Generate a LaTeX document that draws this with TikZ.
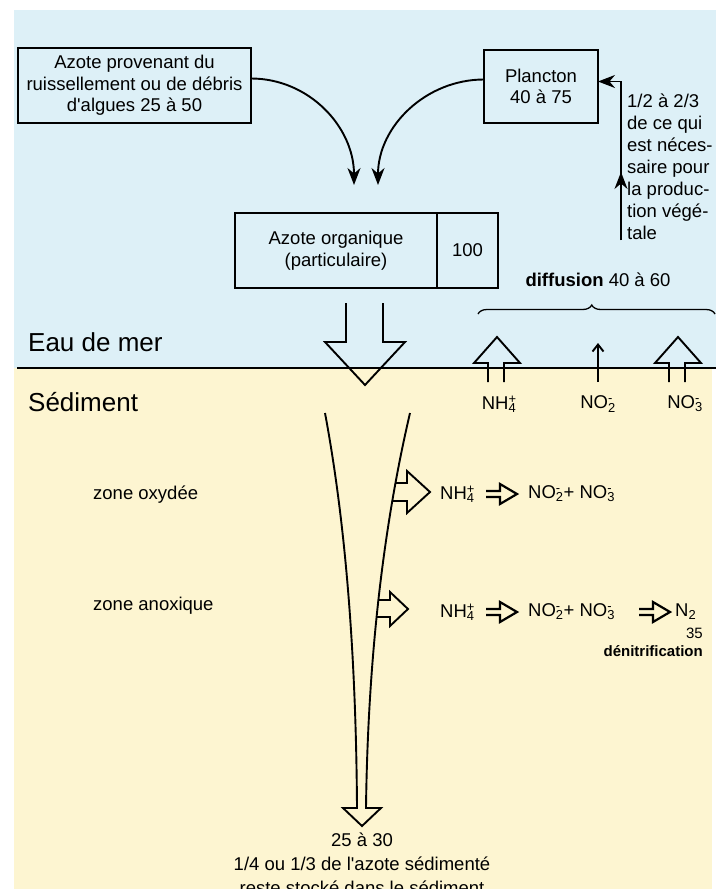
\documentclass[tikz,border=0pt]{standalone}
\usepackage{fontspec}
\setmainfont{Liberation Sans}
\usetikzlibrary{arrows.meta, decorations.pathreplacing}
\definecolor{eau}{RGB}{221,240,247}
\definecolor{sediment}{RGB}{253,245,209}
\newcommand{\ion}[3]{#1\rlap{\textsuperscript{#3}}\textsubscript{#2}}
\newcommand{\apo}{\textquotesingle}
\tikzset{
  boite/.style={draw, line width=1.9pt, inner sep=0pt, outer sep=0pt, align=center, font=\fontsize{18.5}{21.5}\selectfont},
  texte/.style={inner sep=0pt, font=\fontsize{18.5}{22}\selectfont},
  petit/.style={inner sep=0pt, anchor=east, font=\fontsize{15}{18}\selectfont},
  titre/.style={inner sep=0pt, anchor=west, font=\fontsize{26}{30}\selectfont},
  fleche/.style={line width=1.9pt, -{Stealth[length=17pt,width=13pt]}},
  creuse/.style={line width=1.9pt, line join=miter},
  double/.style={line width=2.2pt, line join=miter},
}

\begin{document}
\begin{tikzpicture}[x=1pt, y=-1pt]
\useasboundingbox (0,0) rectangle (721,889);
% fonds
\fill[eau] (14,10) rectangle (716,368);
\fill[sediment] (14,368) rectangle (712,889);
\draw[line width=2.6pt] (17,368) -- (716,368);
\node[titre] (eau) at (28,342) {Eau de mer};
\node[titre] (sed) at (28,402) {Sédiment};

% boites du haut
\node[boite, minimum width=233pt, minimum height=75pt] (apport) at (134.5,85.5) {Azote provenant du\\ruissellement ou de débris\\d\apo algues 25 à 50};
\node[boite, minimum width=114pt, minimum height=73pt] (plancton) at (541,86.5) {Plancton\\40 à 75};
\node[boite, minimum width=202pt, minimum height=75pt] (organique) at (336,250.5) {Azote organique\\(particulaire)};
\node[boite, minimum width=61pt, minimum height=75pt, anchor=west] (cent) at (organique.east) {100};

\coordinate (arrivee1) at (354,185);
\coordinate (arrivee2) at (378,185);
\draw[fleche] ([yshift=7pt]apport.east) to[out=0, in=90] (arrivee1);
\draw[fleche] ([yshift=7pt]plancton.west) to[out=180, in=90] (arrivee2);

% retour vers le plancton
\coordinate (pied) at (621,240);
\draw[fleche] (pied) |- ([yshift=5pt]plancton.east);
\draw[fleche] (pied) -- ++(0,-68);
\node[texte, anchor=north west, align=left] (besoin) at (627,94) {1/2 à 2/3\\de ce qui\\est néces-\\saire pour\\la produc-\\tion végé-\\tale};

% diffusion
\node[texte] (diffusion) at (598,280) {\textbf{diffusion} 40 à 60};
\draw[line width=1.3pt, decorate, decoration={brace, amplitude=9pt, aspect=0.48}] (478,314) -- (715,314);
\draw[creuse] (488,382) -- (488,363) -- (474,363) -- (497,337) -- (520,363) -- (504,363) -- (504,382);
\coordinate (no2pied) at (598,382);
\coordinate (no2tete) at (598,343);
\draw[line width=1.9pt, -{Straight Barb[length=7pt,width=11pt]}] (no2pied) -- (no2tete);
\draw[creuse] (669,382) -- (669,363) -- (655,363) -- (678,337) -- (701,363) -- (685,363) -- (685,382);
\node[texte] (nh4) at (499,404) {\ion{NH}{4}{+}};
\node[texte] (no2) at (598,404) {\ion{NO}{2}{-}};
\node[texte] (no3) at (685,404) {\ion{NO}{3}{-}};

% chute dans le sediment
\draw[creuse] (346,303) -- (346,342) -- (325,342) -- (365,385) -- (405,342) -- (383,342) -- (383,303);
\draw[creuse] (325,413) .. controls (345,520) and (356,650) .. (357,808) -- (343,808) -- (362,826) -- (381,808) -- (366,808) .. controls (368,650) and (385,520) .. (410,413);
\draw[creuse] (395,483) -- (407,483) -- (407,471) -- (430,492) -- (407,513) -- (407,501) -- (392,501);
\draw[creuse] (378,600) -- (390,600) -- (390,592) -- (408,609) -- (390,626) -- (390,617) -- (376,617);

% zone oxydee
\node[texte, anchor=west] (oxy) at (93,495) {zone oxydée};
\node[texte, anchor=west] (nh4a) at (440,494) {\ion{NH}{4}{+}};
\draw[double] (486,491) -- (500,491) -- (500,484) -- (517,494) -- (500,504) -- (500,497) -- (486,497);
\node[texte, anchor=west] (noxa) at (528,494) {\ion{NO}{2}{-}+ \ion{NO}{3}{-}};

% zone anoxique
\node[texte, anchor=west] (anox) at (93,606) {zone anoxique};
\node[texte, anchor=west] (nh4b) at (440,612) {\ion{NH}{4}{+}};
\draw[double] (486,609) -- (500,609) -- (500,602) -- (517,612) -- (500,622) -- (500,615) -- (486,615);
\node[texte, anchor=west] (noxb) at (528,612) {\ion{NO}{2}{-}+ \ion{NO}{3}{-}};
\draw[double] (639,609) -- (653,609) -- (653,602) -- (670,612) -- (653,622) -- (653,615) -- (639,615);
\node[texte, anchor=west] (n2) at (675,612) {N\textsubscript{2}};
\node[petit] (trentecinq) at (703,633) {35};
\node[petit] (denit) at (703,651) {\textbf{dénitrification}};

% stockage
\node[texte] (reste) at (362,840) {25 à 30};
\node[texte, anchor=north, align=center, font=\fontsize{18.5}{24}\selectfont] (stock) at (362,857) {1/4 ou 1/3 de l\apo azote sédimenté\\reste stocké dans le sédiment};
\end{tikzpicture}
\end{document}
